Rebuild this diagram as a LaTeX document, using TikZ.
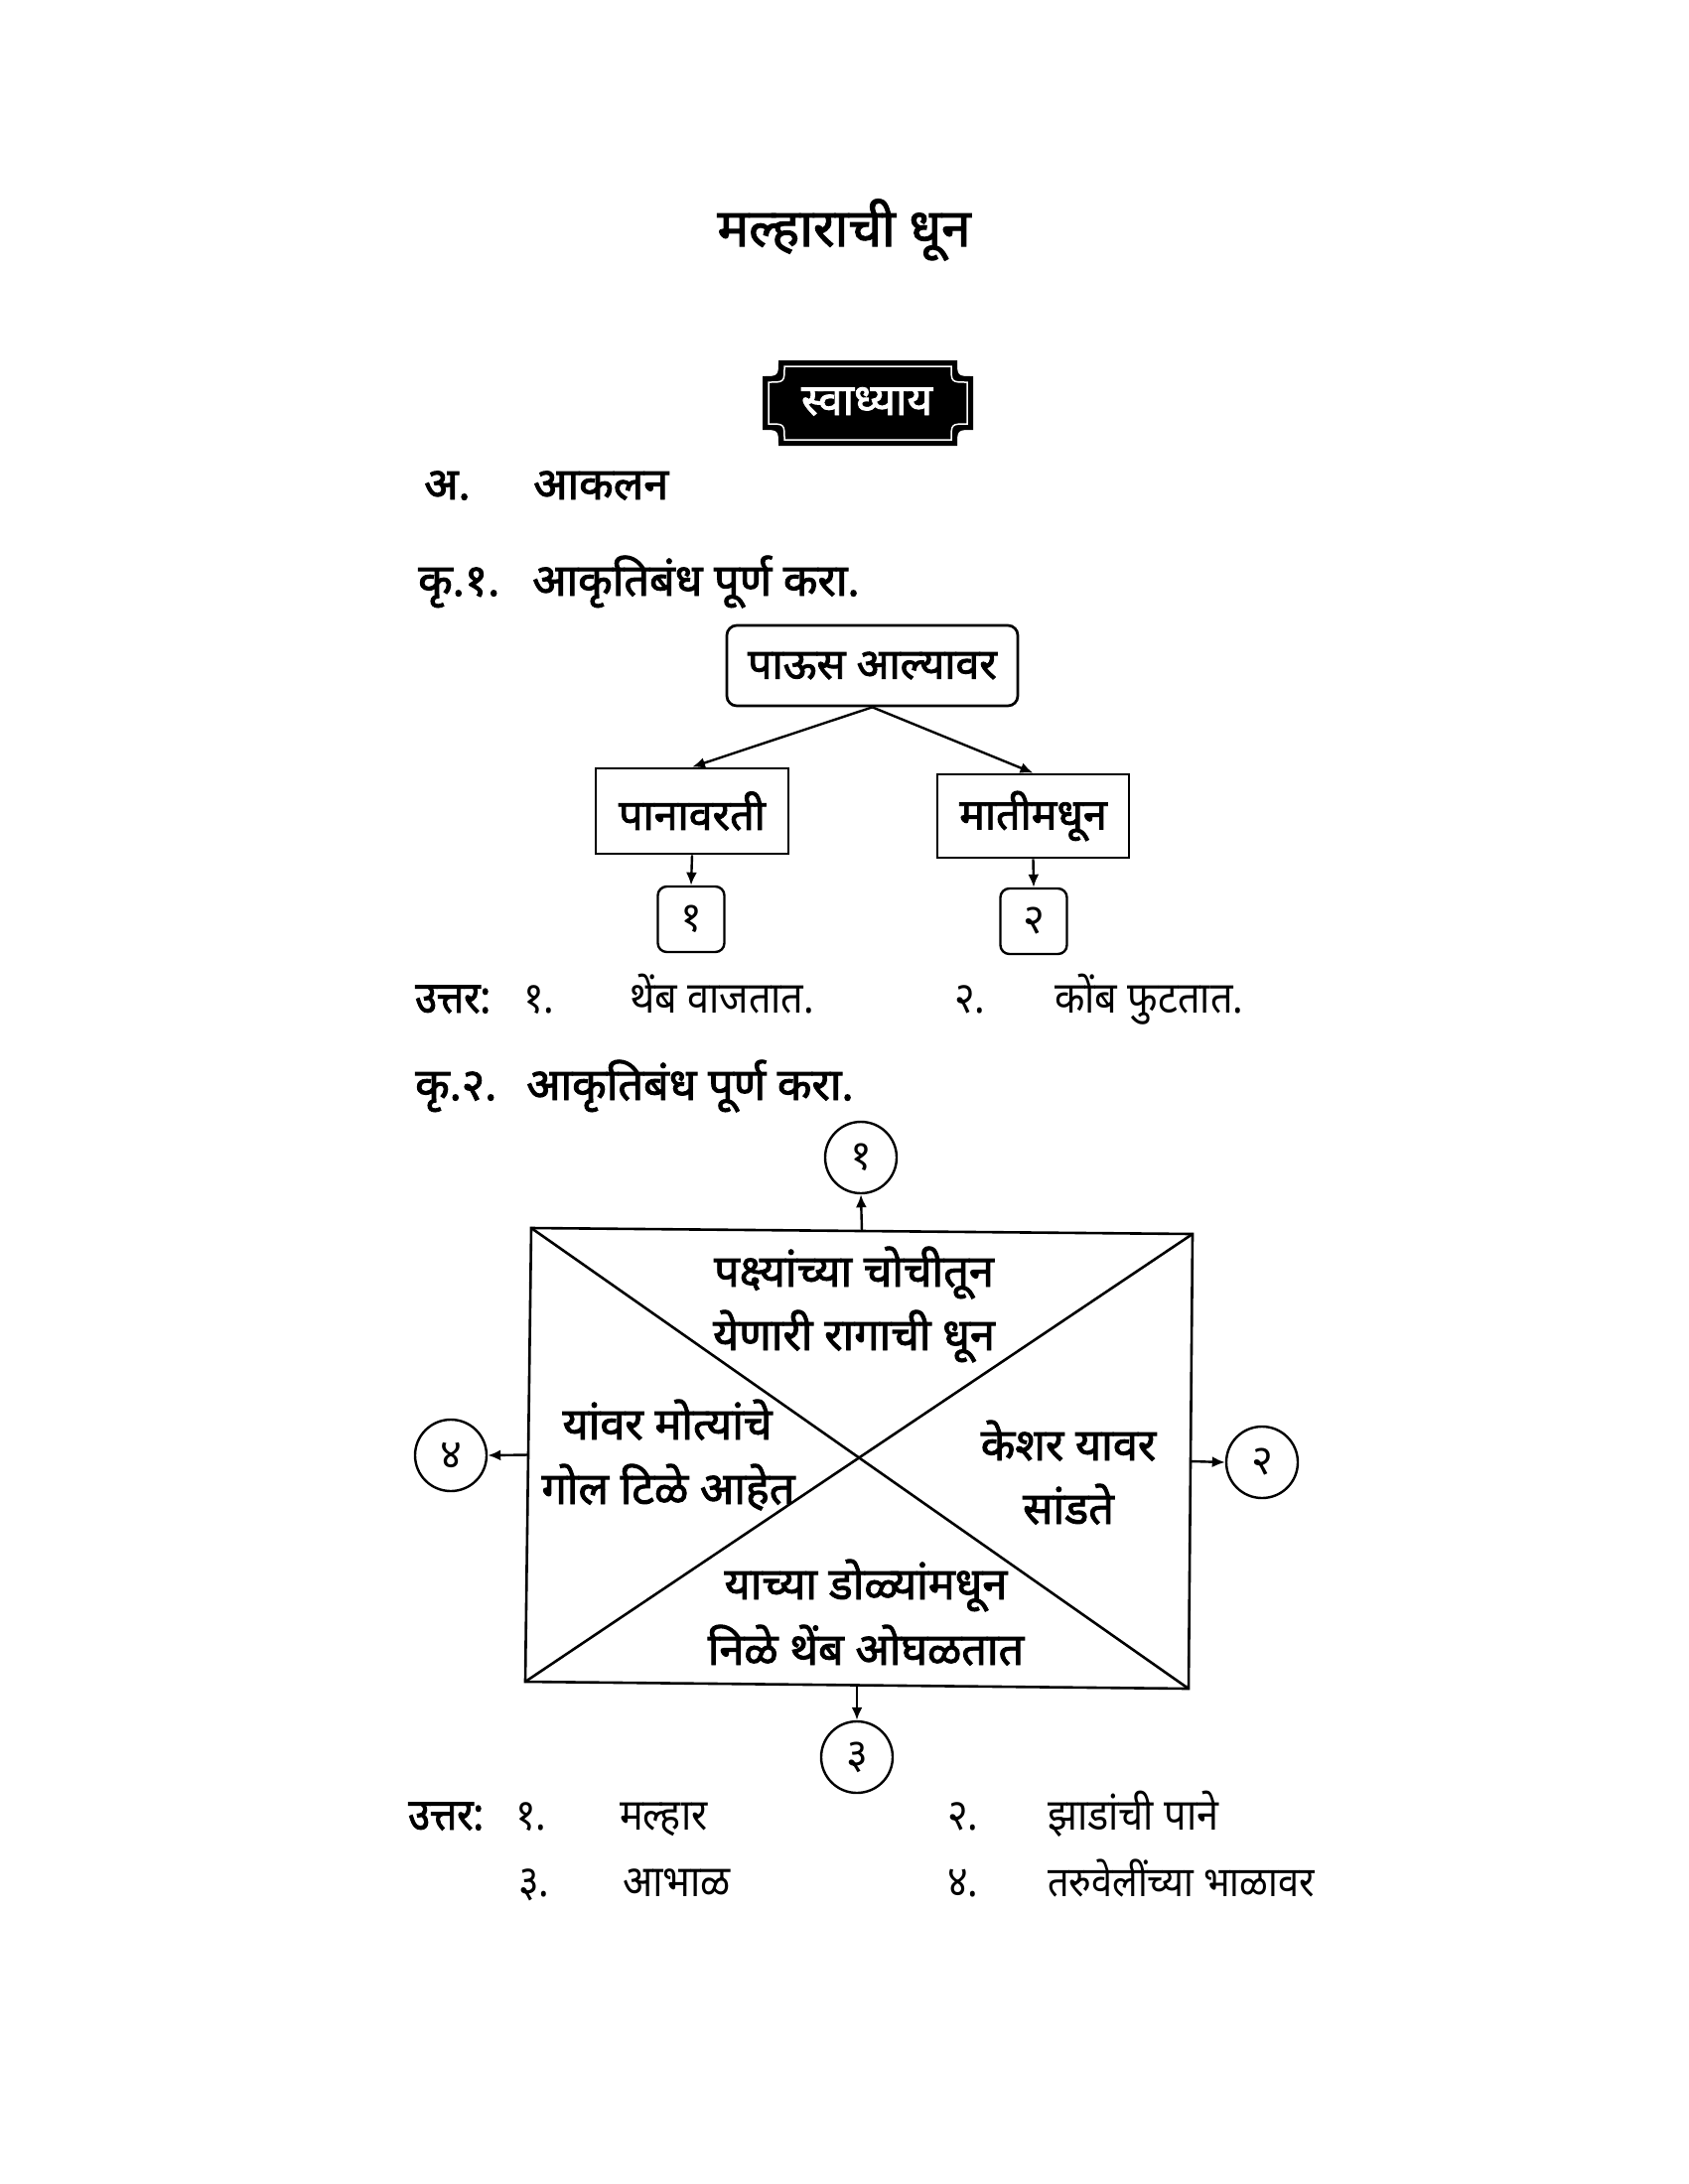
\documentclass[tikz,border=0pt]{standalone}
\usepackage{fontspec}
\usetikzlibrary{arrows.meta,calc}
\newfontfamily\dev[Script=Devanagari]{Noto Sans}
\newfontfamily\devb[Script=Devanagari,FakeBold=2]{Noto Sans}
\newfontfamily\devc[Script=Devanagari,FakeStretch=0.9]{Noto Sans}
\newfontfamily\devcb[Script=Devanagari,FakeStretch=0.9,FakeBold=2]{Noto Sans}
\begin{document}
\begin{tikzpicture}[x=1pt,y=-1pt,
  hd/.style={font=\devb\fontsize{45}{50}\selectfont, anchor=base west, inner sep=0pt},
  ans/.style={font=\devc\fontsize{44}{50}\selectfont, anchor=base west, inner sep=0pt},
  ansb/.style={font=\devcb\fontsize{44}{50}\selectfont, anchor=base west, inner sep=0pt},
  bt/.style={font=\devb\fontsize{45}{50}\selectfont, anchor=base, inner sep=0pt},
  sqbox/.style={draw, line width=2.7pt, inner sep=0pt, font=\devb\fontsize{43}{50}\selectfont},
  rbox/.style={sqbox, rounded corners=10pt},
  numbox/.style={draw, line width=2.4pt, rounded corners=9pt, inner sep=0pt, minimum width=67pt, minimum height=66pt, font=\dev\fontsize{42}{46}\selectfont},
  numcirc/.style={draw, circle, line width=2.4pt, inner sep=0pt, minimum size=72pt, font=\dev\fontsize{42}{46}\selectfont},
  arr/.style={line width=2.4pt, -{Latex[length=13pt,width=11pt]}},
  edge/.style={line width=2.6pt}
]
\useasboundingbox (0,0) rectangle (1700,2200);
\fill[white] (0,0) rectangle (1700,2200);

% title
\node[font=\devb\fontsize{53}{60}\selectfont, anchor=base, inner sep=0pt] (title) at (850,248) {मल्हाराची धून};

% badge
\fill[black] (784,363) -- (964,363) .. controls (964,379) .. (980,379) -- (980,433) .. controls (964,433) .. (964,449) -- (784,449) .. controls (784,433) .. (768,433) -- (768,379) .. controls (784,379) .. (784,363) -- cycle;
\draw[white, line width=1.5pt] (790,369) -- (958,369) .. controls (958,385) .. (974,385) -- (974,427) .. controls (958,427) .. (958,443) -- (790,443) .. controls (790,427) .. (774,427) -- (774,385) .. controls (790,385) .. (790,369) -- cycle;
\node[text=white, font=\devb\fontsize{44}{50}\selectfont, anchor=base, inner sep=0pt] (badge) at (873,418) {स्वाध्याय};

% section A
\node[hd] (sa) at (427,503) {अ.};
\node[hd] (sakal) at (537,503) {आकलन};

% activity 1
\node[hd] (k1) at (421,600) {कृ.१.};
\node[hd] (k1t) at (536,600) {आकृतिबंध पूर्ण करा.};

\node[rbox, minimum width=293pt, minimum height=81pt] (rain) at (878.5,670.5) {पाऊस आल्यावर};
\node[sqbox, minimum width=194pt, minimum height=86pt] (leaf) at (697,817) {पानावरती};
\node[sqbox, minimum width=193pt, minimum height=84pt] (soil) at (1040.5,822) {मातीमधून};
\node[numbox] (b1) at (696,926) {१};
\node[numbox] (b2) at (1041,928) {२};

\draw[arr] (rain.south) -- (leaf.north);
\draw[arr] (rain.south) -- (soil.north);
\draw[arr] (leaf.south) -- (b1.north);
\draw[arr] (soil.south) -- (b2.north);

% answers 1
\node[ansb] (u1) at (418,1020) {उत्तर:};
\node[ans] (u1n1) at (527,1020) {१.};
\node[ans] (u1a1) at (634,1020) {थेंब वाजतात.};
\node[ans] (u1n2) at (961,1020) {२.};
\node[ans] (u1a2) at (1062,1020) {कोंब फुटतात.};

% activity 2
\node[hd] (k2) at (418,1108) {कृ.२.};
\node[hd] (k2t) at (530,1108) {आकृतिबंध पूर्ण करा.};

\coordinate (TL) at (535,1237);
\coordinate (TR) at (1201,1243);
\coordinate (BR) at (1197,1701);
\coordinate (BL) at (529,1694);
\draw[edge] (TL) -- (TR) -- (BR) -- (BL) -- cycle;
\draw[edge] (TL) -- (BR);
\draw[edge] (TR) -- (BL);

\coordinate (mt) at ($(TL)!0.5!(TR)$);
\coordinate (mr) at ($(TR)!0.5!(BR)$);
\coordinate (mb) at ($(BL)!0.5!(BR)$);
\coordinate (ml) at ($(TL)!0.5!(BL)$);

\node[numcirc] (c1) at (867,1166) {१};
\node[numcirc] (c2) at (1271,1473) {२};
\node[numcirc] (c3) at (863,1770) {३};
\node[numcirc] (c4) at (454,1466) {४};

\draw[arr] (mt) -- (c1.south);
\draw[arr] (mr) -- (c2.west);
\draw[arr] (mb) -- (c3.north);
\draw[arr] (ml) -- (c4.east);

\node[bt] (t1a) at (860,1296) {पक्ष्यांच्या चोचीतून};
\node[bt] (t1b) at (860,1360) {येणारी रागाची धून};
\node[bt] (t4a) at (672,1450) {यांवर मोत्यांचे};
\node[bt] (t4b) at (673,1515) {गोल टिळे आहेत};
\node[bt] (t2a) at (1076,1471) {केशर यावर};
\node[bt] (t2b) at (1076,1535) {सांडते};
\node[bt] (t3a) at (872,1611) {याच्या डोळ्यांमधून};
\node[bt] (t3b) at (872,1677) {निळे थेंब ओघळतात};

% answers 2
\node[ansb] (u2) at (411,1843) {उत्तर:};
\node[ans] (u2n1) at (519,1843) {१.};
\node[ans] (u2a1) at (624,1843) {मल्हार};
\node[ans] (u2n2) at (954,1843) {२.};
\node[ans] (u2a2) at (1055,1843) {झाडांची पाने};
\node[ans] (u2n3) at (522,1910) {३.};
\node[ans] (u2a3) at (627,1910) {आभाळ};
\node[ans] (u2n4) at (954,1910) {४.};
\node[ans, font=\devc\fontsize{42}{50}\selectfont] (u2a4) at (1055,1910) {तरुवेलींच्या भाळावर};
\end{tikzpicture}
\end{document}
